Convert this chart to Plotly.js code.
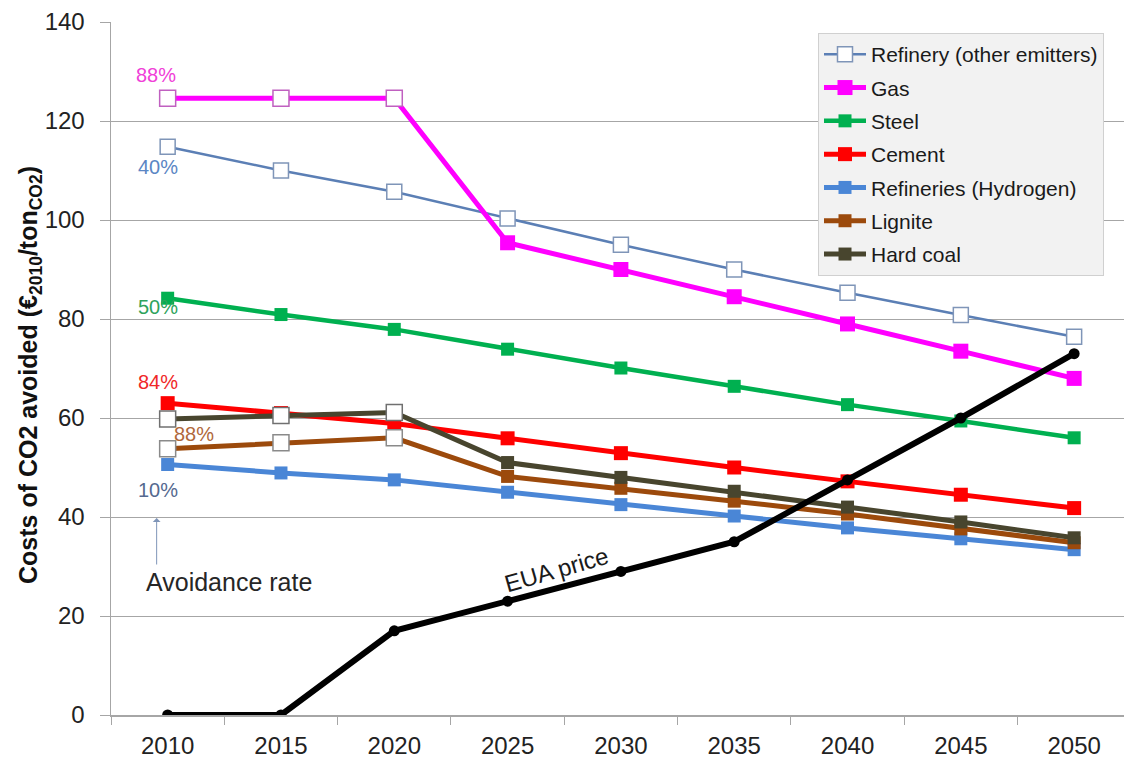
<!DOCTYPE html>
<html>
<head>
<meta charset="utf-8">
<script src="https://cdn.plot.ly/plotly-3.0.1.min.js"></script>
<style>html,body{margin:0;padding:0;background:#fff;}#chart{width:1124px;height:758px;}</style>
</head>
<body>
<div id="chart"></div>
<script>
const years = ["2010","2015","2020","2025","2030","2035","2040","2045","2050"];
const refineryOther = [114.8,110,105.7,100.3,95,90,85.3,80.8,76.4];
const gas = [124.6,124.6,124.6,95.4,90,84.5,79,73.5,68];
const steel = [84.2,80.9,77.9,73.9,70.1,66.4,62.7,59.4,56];
const cement = [63,61,58.9,55.9,52.9,50,47.2,44.5,41.8];
const refineriesH2 = [50.6,48.9,47.5,45,42.5,40.2,37.8,35.6,33.4];
const lignite = [53.8,55,56,48.2,45.8,43.2,40.6,37.6,34.8];
const hardCoal = [59.8,60.5,61.1,51,48,45.2,42,39,35.8];
const euaPrice = [0,0,17,23,29,35,47.5,60,73];
const openCount = 3; // first points drawn with open (white) markers

const seriesNames = ["Refinery (other emitters)","Gas","Steel","Cement","Refineries (Hydrogen)","Lignite","Hard coal"];
const avoidanceLabels = ["40%","88%","50%","84%","10%","88%"];

function line(name, y, color, width, msize, group) {
  return {x: years, y: y, name: name, type: 'scatter', mode: 'lines+markers',
    legendgroup: group,
    line: {color: color, width: width},
    marker: {symbol: 'square', size: msize, color: color}};
}
function openMarkers(y, borderColor, size) {
  return {x: years.slice(0, openCount), y: y.slice(0, openCount), type: 'scatter', mode: 'markers',
    showlegend: false, hoverinfo: 'skip',
    marker: {symbol: 'square', size: size, color: '#ffffff', line: {color: borderColor, width: 1.5}}};
}

const cRef = '#5b7fb5', cGas = '#ff00ff', cSteel = '#00b050', cCem = '#ff0000',
      cH2 = '#4a86d6', cLig = '#9c4a0c', cCoal = '#48452e';

const traces = [
  line(seriesNames[0], refineryOther, cRef, 2.5, 14, 'g1'),
  line(seriesNames[1], gas, cGas, 5, 15, 'g2'),
  line(seriesNames[2], steel, cSteel, 4.5, 13, 'g3'),
  line(seriesNames[3], cement, cCem, 5, 14, 'g4'),
  line(seriesNames[4], refineriesH2, cH2, 5, 13, 'g5'),
  line(seriesNames[5], lignite, cLig, 5, 13, 'g6'),
  line(seriesNames[6], hardCoal, cCoal, 5, 13, 'g7')
];
// Refinery (other emitters): all open markers
traces[0].marker = {symbol: 'square', size: 15, color: '#ffffff', line: {color: '#7f95b8', width: 1.5}};
traces.push(openMarkers(gas, '#c060c0', 16));
traces.push(openMarkers(lignite, '#8a8a8a', 16));
traces.push(openMarkers(hardCoal, '#707070', 16));
traces.push({x: years, y: euaPrice, type: 'scatter', mode: 'lines+markers', name: 'EUA price',
  showlegend: false, line: {color: '#000000', width: 6}, marker: {symbol: 'circle', size: 11, color: '#000000'}});

function px2idx(px) { return (px - 167) / 113.25; }
function py2val(py) { return (715 - py) / 4.95; }

const pctFont = 20;
const annotations = [
  {x: px2idx(155), y: py2val(75), text: avoidanceLabels[1], font: {color: '#f040d8', size: pctFont}},
  {x: px2idx(157), y: py2val(167), text: avoidanceLabels[0], font: {color: '#5b86c4', size: pctFont}},
  {x: px2idx(157), y: py2val(307), text: avoidanceLabels[2], font: {color: '#2ea35c', size: pctFont}},
  {x: px2idx(157), y: py2val(382), text: avoidanceLabels[3], font: {color: '#f02828', size: pctFont}},
  {x: px2idx(193), y: py2val(434), text: avoidanceLabels[5], font: {color: '#b0683a', size: pctFont}},
  {x: px2idx(157), y: py2val(490), text: avoidanceLabels[4], font: {color: '#55698f', size: pctFont}},
  {x: px2idx(228), y: py2val(582), text: 'Avoidance rate', font: {color: '#262626', size: 25}},
  {x: px2idx(556), y: py2val(569), text: 'EUA price', textangle: -16, font: {color: '#1a1a1a', size: 24}},
  {x: px2idx(156), y: py2val(518), ax: px2idx(156), ay: py2val(566), axref: 'x', ayref: 'y',
   text: '', showarrow: true, arrowhead: 1, arrowsize: 1.3, arrowwidth: 1, arrowcolor: '#7f95b8'},
  {xref: 'paper', yref: 'paper', x: (30 - 111) / 1013, y: (715 - 375) / 693, textangle: -90,
   xanchor: 'center', yanchor: 'middle',
   text: '<b>Costs of CO2 avoided (€<sub>2010</sub>/ton<sub>CO2</sub>)</b>',
   font: {size: 25, color: '#111111'}}
].map(a => Object.assign({xref: 'x', yref: 'y', showarrow: false}, a));

const layout = {
  width: 1124, height: 758,
  margin: {l: 111, r: 0, t: 22, b: 43},
  paper_bgcolor: '#ffffff', plot_bgcolor: '#ffffff',
  font: {family: 'Liberation Sans, Arial, sans-serif', color: '#222222'},
  showlegend: true,
  legend: {x: (818 - 111) / 1013, y: 0.984, xanchor: 'left', yanchor: 'top',
    bgcolor: '#f2f2f2', bordercolor: '#d0d0d0', borderwidth: 1,
    font: {size: 21, color: '#1a1a1a'}, tracegroupgap: 3, itemwidth: 42},
  xaxis: {type: 'category', range: [-0.5, 8.44], showgrid: false,
    showline: true, linecolor: '#a6a6a6', linewidth: 1.5,
    ticks: 'outside', tickson: 'boundaries', ticklen: 8, tickcolor: '#a6a6a6',
    ticklabelstandoff: 9,
    tickfont: {size: 24, color: '#222222'}, zeroline: false, fixedrange: true},
  yaxis: {range: [0, 140], dtick: 20, showgrid: true, gridcolor: '#a6a6a6', gridwidth: 1,
    showline: true, linecolor: '#a6a6a6', linewidth: 1.5,
    ticks: 'outside', ticklen: 10, tickcolor: '#a6a6a6', ticklabelstandoff: 10,
    tickfont: {size: 24, color: '#222222'}, zeroline: false},
  annotations: annotations
};

Plotly.newPlot('chart', traces, layout, {displayModeBar: false, staticPlot: true});
</script>
</body>
</html>
